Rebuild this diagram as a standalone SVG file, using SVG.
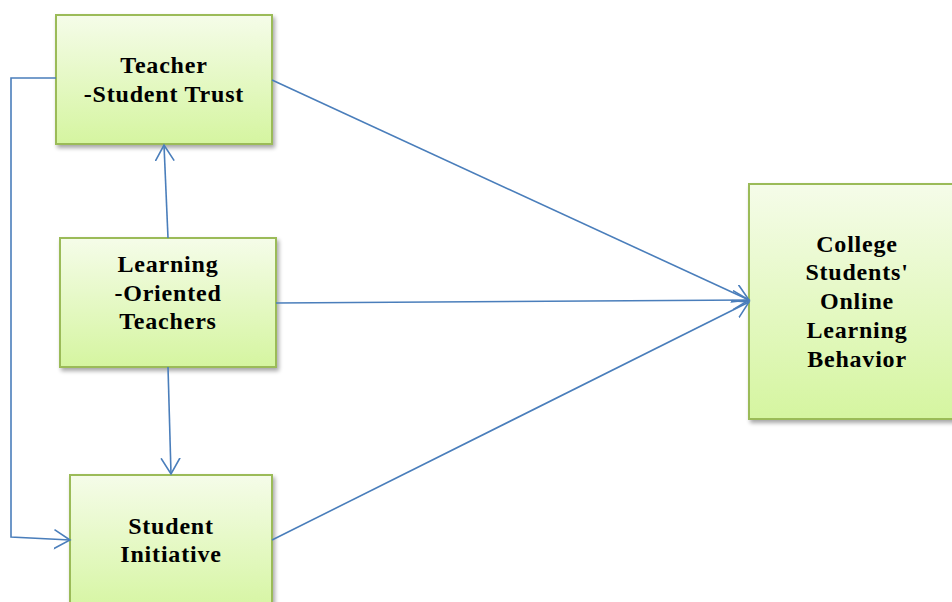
<svg xmlns="http://www.w3.org/2000/svg" width="952" height="602" viewBox="0 0 952 602">
<defs>
<linearGradient id="g" x1="0" y1="0" x2="0" y2="1">
<stop offset="0" stop-color="#f5fce9"/>
<stop offset="1" stop-color="#d5f5a0"/>
</linearGradient>
<filter id="sh" x="-10%" y="-10%" width="125%" height="125%">
<feGaussianBlur in="SourceAlpha" stdDeviation="2"/>
<feOffset dx="2" dy="3" result="b"/>
<feComponentTransfer><feFuncA type="linear" slope="0.35"/></feComponentTransfer>
<feMerge><feMergeNode/><feMergeNode in="SourceGraphic"/></feMerge>
</filter>
<marker id="arr" markerUnits="userSpaceOnUse" markerWidth="22" markerHeight="22" refX="16" refY="10" orient="auto">
<path d="M0,0.5 L16,10 L0,19.5" fill="none" stroke="#4a7ebb" stroke-width="1.6"/>
</marker>
</defs>
<style>
.box{fill:url(#g);stroke:#9bbb59;stroke-width:2;filter:url(#sh)}
.t{font-family:"Liberation Serif","DejaVu Serif",serif;font-weight:bold;font-size:24px;letter-spacing:0.8px;fill:#000;text-anchor:middle}
.c{fill:none;stroke:#4a7ebb;stroke-width:1.6}
</style>
<rect width="952" height="602" fill="#fff"/>
<g id="teacher-student-trust">
<rect class="box" x="56" y="15" width="216" height="129"/>
<text class="t" x="164" y="73">Teacher</text>
<text class="t" x="164" y="102">-Student Trust</text>
</g>
<g id="learning-oriented-teachers">
<rect class="box" x="60" y="238" width="216" height="129"/>
<text class="t" x="168" y="272">Learning</text>
<text class="t" x="168" y="301">-Oriented</text>
<text class="t" x="168" y="329">Teachers</text>
</g>
<g id="student-initiative">
<rect class="box" x="70" y="475" width="202" height="140"/>
<text class="t" x="171" y="534">Student</text>
<text class="t" x="171" y="562">Initiative</text>
</g>
<g id="college-students-online-learning-behavior">
<rect class="box" x="749" y="184" width="215" height="235"/>
<text class="t" x="857" y="252">College</text>
<text class="t" x="857" y="280">Students'</text>
<text class="t" x="857" y="309">Online</text>
<text class="t" x="857" y="338">Learning</text>
<text class="t" x="857" y="367">Behavior</text>
</g>
<g id="connectors">
<line class="c" x1="272" y1="80" x2="749" y2="300" marker-end="url(#arr)"/>
<line class="c" x1="276" y1="303" x2="749" y2="300" marker-end="url(#arr)"/>
<line class="c" x1="272" y1="540" x2="749" y2="302" marker-end="url(#arr)"/>
<line class="c" x1="168" y1="238" x2="164" y2="145" marker-end="url(#arr)"/>
<line class="c" x1="168" y1="367" x2="171" y2="474" marker-end="url(#arr)"/>
<polyline class="c" points="56,78 11,78 11,537 70,540" marker-end="url(#arr)"/>
</g>
</svg>
